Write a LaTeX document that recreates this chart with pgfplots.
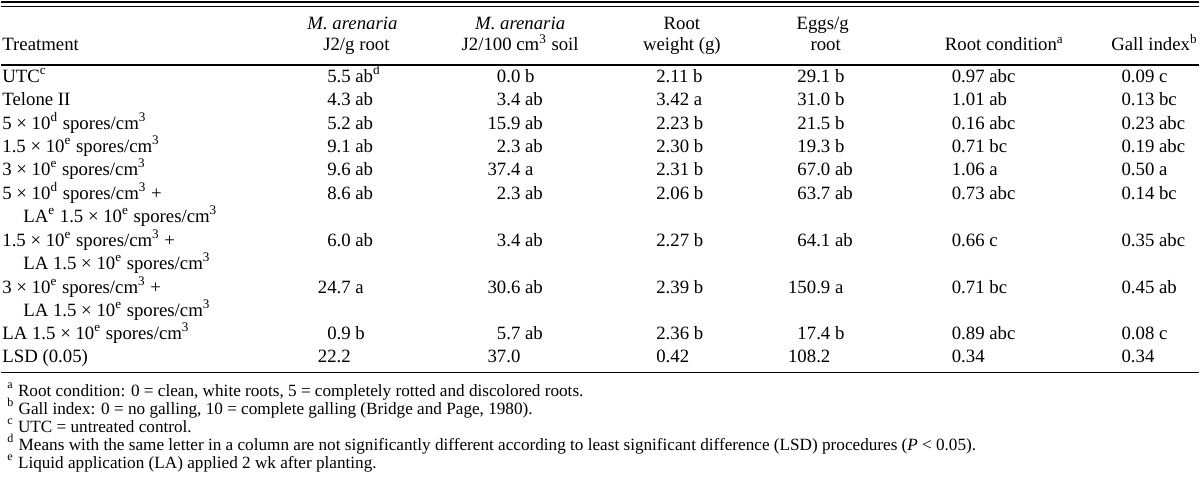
\documentclass[border=0pt]{standalone}
\usepackage{fontspec}
\setmainfont{Liberation Serif}
\usepackage{pgfplots}
\pgfplotsset{compat=1.18}
\newcommand\body{\fontsize{9.4pt}{11pt}\selectfont}
\newcommand\fn{\fontsize{8.6pt}{10pt}\selectfont}
\newcommand\p{\phantom{0}}
\newcommand\su[1]{\textsuperscript{#1}}
\pgfplotsset{
  txt/.style={only marks, mark=none, black, nodes near coords, point meta=explicit symbolic,
    every node near coord/.style={anchor=base west, inner sep=0pt, font=\body, text=black}},
  txtc/.style={txt, every node near coord/.append style={anchor=base}},
  txte/.style={txt, every node near coord/.append style={anchor=base east}},
  txtf/.style={txt, every node near coord/.append style={font=\fn}},
}
\begin{document}
\begin{tikzpicture}
\begin{axis}[
  width=600pt, height=242.5pt, scale only axis,
  xmin=0, xmax=1200, ymin=0, ymax=485, y dir=reverse,
  hide axis, clip=false,
]
% background (sets the picture size)
\addplot[draw=none, fill=white] coordinates {(0,0) (1200,0) (1200,485) (0,485)} \closedcycle;
% rules
\addplot[black, line width=1pt] coordinates {(0,2) (1200,2)};
\addplot[black, line width=0.5pt] coordinates {(0,6) (1200,6)};
\addplot[black, line width=0.6pt] coordinates {(0,65) (1200,65)};
\addplot[black, line width=0.6pt] coordinates {(0,373) (1200,373)};
% headers
\addplot[txt] coordinates {(1,51) [Treatment]};
\addplot[txtc] coordinates {
 (352,30) [\textit{M. arenaria}] (356,51) [J2/g root]
 (520,30) [\textit{M. arenaria}] (520,51) [J2/100 cm\su{3} soil]
 (682,30) [Root] (682,51) [weight (g)]
 (823,30) [Eggs/g] (826,51) [root]
 (1005,51) [Root condition\su{a}]
};
\addplot[txte] coordinates {(1199,51) [Gall index\su{b}]};
% treatment column
\addplot[txt] coordinates {
 (1,82.5) [UTC\su{c}]
 (1,105.5) [Telone II]
 (1,129.5) [5 × 10\su{d} spores/cm\su{3}]
 (1,152.5) [1.5 × 10\su{e} spores/cm\su{3}]
 (1,175.5) [3 × 10\su{e} spores/cm\su{3}]
 (1,199.5) [5 × 10\su{d} spores/cm\su{3} +]
 (22,222.5) [LA\su{e} 1.5 × 10\su{e} spores/cm\su{3}]
 (1,246.5) [1.5 × 10\su{e} spores/cm\su{3} +]
 (22,269.5) [LA 1.5 × 10\su{e} spores/cm\su{3}]
 (1,293.5) [3 × 10\su{e} spores/cm\su{3} +]
 (22,316.5) [LA 1.5 × 10\su{e} spores/cm\su{3}]
 (1,339.5) [LA 1.5 × 10\su{e} spores/cm\su{3}]
 (1,363.5) [LSD (0.05)]
};
% M. arenaria J2/g root
\addplot[txt] coordinates {
 (317,82.5) [\p5.5 ab\su{d}] (317,105.5) [\p4.3 ab] (317,129.5) [\p5.2 ab]
 (317,152.5) [\p9.1 ab] (317,175.5) [\p9.6 ab] (317,199.5) [\p8.6 ab]
 (317,246.5) [\p6.0 ab] (317,293.5) [24.7 a] (317,339.5) [\p0.9 b] (317,363.5) [22.2]
};
% M. arenaria J2/100 cm3 soil
\addplot[txt] coordinates {
 (487,82.5) [\p0.0 b] (487,105.5) [\p3.4 ab] (487,129.5) [15.9 ab]
 (487,152.5) [\p2.3 ab] (487,175.5) [37.4 a] (487,199.5) [\p2.3 ab]
 (487,246.5) [\p3.4 ab] (487,293.5) [30.6 ab] (487,339.5) [\p5.7 ab] (487,363.5) [37.0]
};
% Root weight (g)
\addplot[txt] coordinates {
 (656,82.5) [2.11 b] (656,105.5) [3.42 a] (656,129.5) [2.23 b]
 (656,152.5) [2.30 b] (656,175.5) [2.31 b] (656,199.5) [2.06 b]
 (656,246.5) [2.27 b] (656,293.5) [2.39 b] (656,339.5) [2.36 b] (656,363.5) [0.42]
};
% Eggs/g root
\addplot[txt] coordinates {
 (788,82.5) [\p29.1 b] (788,105.5) [\p31.0 b] (788,129.5) [\p21.5 b]
 (788,152.5) [\p19.3 b] (788,175.5) [\p67.0 ab] (788,199.5) [\p63.7 ab]
 (788,246.5) [\p64.1 ab] (788,293.5) [150.9 a] (788,339.5) [\p17.4 b] (788,363.5) [108.2]
};
% Root condition
\addplot[txt] coordinates {
 (952,82.5) [0.97 abc] (952,105.5) [1.01 ab] (952,129.5) [0.16 abc]
 (952,152.5) [0.71 bc] (952,175.5) [1.06 a] (952,199.5) [0.73 abc]
 (952,246.5) [0.66 c] (952,293.5) [0.71 bc] (952,339.5) [0.89 abc] (952,363.5) [0.34]
};
% Gall index
\addplot[txt] coordinates {
 (1122,82.5) [0.09 c] (1122,105.5) [0.13 bc] (1122,129.5) [0.23 abc]
 (1122,152.5) [0.19 abc] (1122,175.5) [0.50 a] (1122,199.5) [0.14 bc]
 (1122,246.5) [0.35 abc] (1122,293.5) [0.45 ab] (1122,339.5) [0.08 c] (1122,363.5) [0.34]
};
% footnotes
\addplot[txtf] coordinates {
 (6,397) [\su{a} Root condition: 0 = clean, white roots, 5 = completely rotted and discolored roots.]
 (6,415) [\su{b} Gall index: 0 = no galling, 10 = complete galling (Bridge and Page, 1980).]
 (6,433) [\su{c} UTC = untreated control.]
 (6,451) [\su{d} Means with the same letter in a column are not significantly different according to least significant difference (LSD) procedures (\textit{P} < 0.05).]
 (6,469) [\su{e} Liquid application (LA) applied 2 wk after planting.]
};
\end{axis}
\end{tikzpicture}
\end{document}
